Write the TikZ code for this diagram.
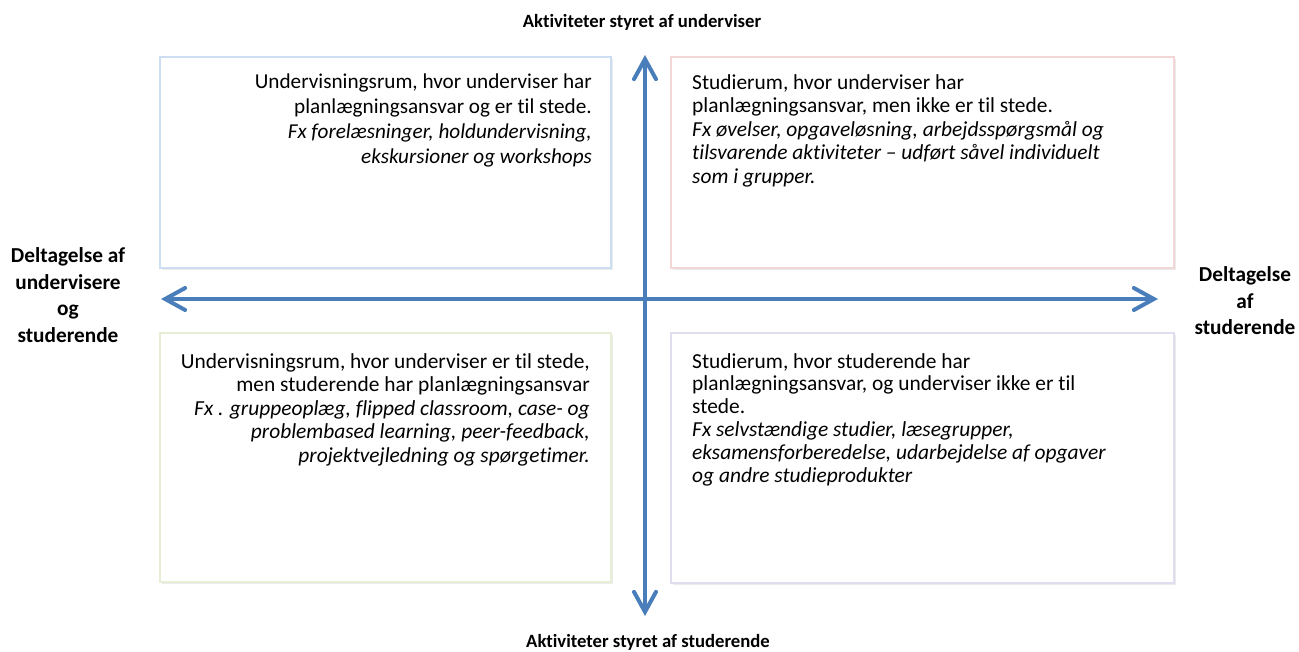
\documentclass[tikz,border=0pt]{standalone}
\usepackage{fontspec}
\setmainfont{Carlito}[Ligatures=NoCommon]
\usetikzlibrary{arrows.meta}
\definecolor{bluebd}{RGB}{205,222,242}
\definecolor{pinkbd}{RGB}{243,214,214}
\definecolor{greenbd}{RGB}{230,238,214}
\definecolor{lavbd}{RGB}{225,221,238}
\definecolor{axis}{RGB}{74,126,187}
\tikzset{
  quad/.style={draw=#1, line width=2pt, fill=white},
  shadowbox/.style={fill=black!8},
  body/.style={inner sep=0pt, font=\fontsize{21.4}{23.5}\selectfont},
  lbl/.style={inner sep=0pt, align=center, font=\bfseries\fontsize{18.7}{26.5}\selectfont},
  sidelbl/.style={inner sep=0pt, align=center, font=\bfseries\fontsize{21.3}{26.5}\selectfont},
  axisline/.style={draw=axis, line width=4pt, line cap=round,
    {Straight Barb[length=20pt,width=22pt,line cap=round]}-{Straight Barb[length=20pt,width=22pt,line cap=round]}}
}
\begin{document}
\begin{tikzpicture}[x=1pt,y=-1pt]
\useasboundingbox (0,0) rectangle (1299,651);
% shadows
\fill[shadowbox] (162,59) rectangle (613,270);
\fill[shadowbox] (673,59) rectangle (1176,270);
\fill[shadowbox] (162,335) rectangle (613,584);
\fill[shadowbox] (673,335) rectangle (1176,585);
% boxes
\path[quad=bluebd] (160,57) rectangle (611,268);
\path[quad=pinkbd] (671,57) rectangle (1174,268);
\path[quad=greenbd] (160,333) rectangle (611,582);
\path[quad=lavbd] (671,333) rectangle (1174,583);
% texts
\node[body, anchor=north east, align=right, font=\fontsize{21.2}{25}\selectfont] (tl) at (592,74) {Undervisningsrum, hvor underviser har\\ planlægningsansvar og er til stede.\\ \itshape Fx forelæsninger, holdundervisning,\\ \itshape ekskursioner og workshops};
\node[body, anchor=north west, align=left] (tr) at (692,74) {Studierum, hvor underviser har\\ planlægningsansvar, men ikke er til stede.\\ \itshape Fx øvelser, opgaveløsning, arbejdsspørgsmål og\\ \itshape tilsvarende aktiviteter – udført såvel individuelt\\ \itshape som i grupper.};
\node[body, anchor=north east, align=right] (bl) at (590,353) {Undervisningsrum, hvor underviser er til stede,\\ men studerende har planlægningsansvar\\ \itshape Fx . gruppeoplæg, flipped classroom, case- og\\ \itshape problembased learning, peer-feedback,\\ \itshape projektvejledning og spørgetimer.};
\node[body, anchor=north west, align=left, font=\fontsize{21.4}{22.8}\selectfont] (br) at (692,353) {Studierum, hvor studerende har\\ planlægningsansvar, og underviser ikke er til\\ stede.\\ \itshape Fx selvstændige studier, læsegrupper,\\ \itshape eksamensforberedelse, udarbejdelse af opgaver\\ \itshape og andre studieprodukter};
% axes
\coordinate (vt) at (645,55);
\coordinate (vb) at (645,616);
\coordinate (hl) at (161,299);
\coordinate (hr) at (1158,299);
\draw[axisline] (vb) -- (vt);
\draw[axisline] (hl) -- (hr);
% labels
\node[lbl] (top) at (642,22) {Aktiviteter styret af underviser};
\node[lbl] (bot) at (648,642) {Aktiviteter styret af studerende};
\node[sidelbl] (left) at (68,295) {Deltagelse af\\ undervisere\\ og\\ studerende};
\node[sidelbl] (right) at (1245,301) {Deltagelse\\ af\\ studerende};
\end{tikzpicture}
\end{document}
